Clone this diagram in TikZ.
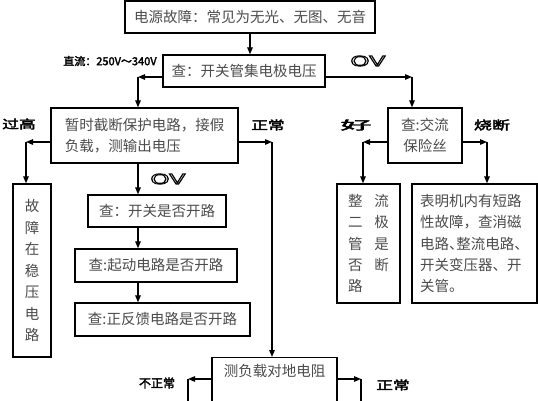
\documentclass[tikz,border=0pt]{standalone}
\usepackage{fontspec}
\usepackage{graphicx}
\setmainfont{Liberation Serif}
\newfontfamily\cjk{Noto Sans CJK SC}
\newfontfamily\cjkb[FakeBold=2.5]{Noto Sans CJK SC}
\newfontfamily\ovfont{Liberation Sans}
\usetikzlibrary{arrows.meta}
\newcommand\boxfont{\cjk\fontsize{14.5pt}{21.5pt}\selectfont}
\newcommand\labfont{\cjkb\fontsize{12pt}{14pt}\selectfont}
\newcommand\myoutl[1]{\special{pdf:literal direct 1 Tr 0.8 w}#1\special{pdf:literal direct 0 Tr}}
\newcommand\mywide[2]{\scalebox{#1}[1]{#2}}
\tikzset{
  box/.style={draw, line width=1.3pt, inner sep=0pt, font=\boxfont, text=black!70},
  lab/.style={inner sep=0pt, font=\labfont, text=black},
  ovlab/.style={inner sep=0pt, font=\ovfont\fontsize{15pt}{16pt}\selectfont, text=black},
  arr/.style={line width=1.2pt, -{Triangle[length=7pt,width=5.5pt]}},
  ln/.style={line width=1.2pt}
}
\begin{document}
\begin{tikzpicture}[x=1pt,y=-1pt]
\useasboundingbox[fill=white] (0,0) rectangle (538,400);
% boxes
\node[box, minimum width=250pt, minimum height=32pt] (top) at (250,17) {电源故障：常见为无光、无图、无音};
\node[box, minimum width=162pt, minimum height=32pt] (box2) at (244,71) {查：开关管集电极电压};
\node[box, minimum width=187pt, minimum height=55pt, align=left] (box3) at (144.5,135.5) {暂时截断保护电路，接假\\负载，测输出电压};
\node[box, minimum width=74pt, minimum height=55pt, align=center] (fuse) at (425,135.5) {查:交流\\保险丝};
\node[box, minimum width=38pt, minimum height=173pt, align=center] (guz) at (32,270.5) {故\\障\\在\\稳\\压\\电\\路};
\node[box, minimum width=138pt, minimum height=32pt] (sw1) at (157,211) {查：开关是否开路};
\node[box, minimum width=162pt, minimum height=33pt] (sw2) at (156,265.5) {查:起动电路是否开路};
\node[box, minimum width=175pt, minimum height=33pt] (sw3) at (162.5,319.5) {查:正反馈电路是否开路};
\node[box, minimum width=63pt, minimum height=119pt, align=left, font=\cjk\fontsize{14.5pt}{21.2pt}\selectfont] (zl) at (368.5,243.5) {整\hspace{12pt}流\\二\hspace{12pt}极\\管\hspace{12pt}是\\否\hspace{12pt}断\\路};
\node[box, minimum width=125pt, minimum height=119pt, align=left, font=\cjk\fontsize{14.5pt}{21.2pt}\selectfont] (sc) at (474.5,243.5) {表明机内有短路\\性故障，查消磁\\电路\makebox[0.5em][l]{、}整流电路、\\开关变压器、开\\关管。};
\node[box, anchor=north, minimum width=125pt, text height=12pt, text depth=35pt, inner ysep=7pt] (load) at (274.5,357) {测负载对地电阻};
% labels
\node[lab, font=\cjkb\fontsize{11pt}{12pt}\selectfont] (ldc) at (110,61) {直流：250V～340V};
\node[ovlab] (ov1) at (368,61) {\mywide{1.6}{\myoutl{OV}}};
\node[ovlab] (ov2) at (168,179) {\mywide{1.6}{\myoutl{OV}}};
\node[lab] (lgg) at (19,124) {\mywide{1.4}{过高}};
\node[lab] (lzc1) at (268,125) {\mywide{1.4}{正常}};
\node[lab] (lhao) at (356,125) {\mywide{2.6}{好}};
\node[lab] (lsd) at (492,125) {\mywide{1.5}{烧断}};
\node[lab] (lbzc) at (157,383) {不正常};
\node[lab] (lzc2) at (393,385) {\mywide{1.4}{正常}};
% corner points
\coordinate (c1) at (138,77);
\coordinate (c2) at (412,77);
\coordinate (c3) at (26,142);
\coordinate (c4) at (272,142);
\coordinate (c5) at (363,142);
\coordinate (c6) at (487,142);
\coordinate (c7) at (188,379);
\coordinate (c8) at (361,379);
\coordinate (e7) at (188,402);
\coordinate (e8) at (361,402);
% connectors
\draw[arr] (top.south) -- (top.south |- box2.north);
\draw[arr] (box2.west |- c1) -- (c1);
\draw[arr] (c1) -- (c1 |- box3.north);
\draw[arr] (box2.east |- c2) -- (c2);
\draw[arr] (c2) -- (c2 |- fuse.north);
\draw[arr] (box3.west |- c3) -- (c3);
\draw[arr] (c3) -- (c3 |- guz.north);
\draw[arr] (box3.east |- c4) -- (c4);
\draw[arr] (c4) -- (c4 |- load.north);
\draw[arr] (c1 |- box3.south) -- (c1 |- sw1.north);
\draw[arr] (c1 |- sw1.south) -- (c1 |- sw2.north);
\draw[arr] (c1 |- sw2.south) -- (c1 |- sw3.north);
\draw[arr] (fuse.west |- c5) -- (c5);
\draw[arr] (c5) -- (c5 |- zl.north);
\draw[arr] (fuse.east |- c6) -- (c6);
\draw[arr] (c6) -- (c6 |- sc.north);
\draw[arr] (load.west |- c7) -- (c7);
\draw[ln] (c7) -- (e7);
\draw[arr] (load.east |- c8) -- (c8);
\draw[ln] (c8) -- (e8);
\end{tikzpicture}
\end{document}
